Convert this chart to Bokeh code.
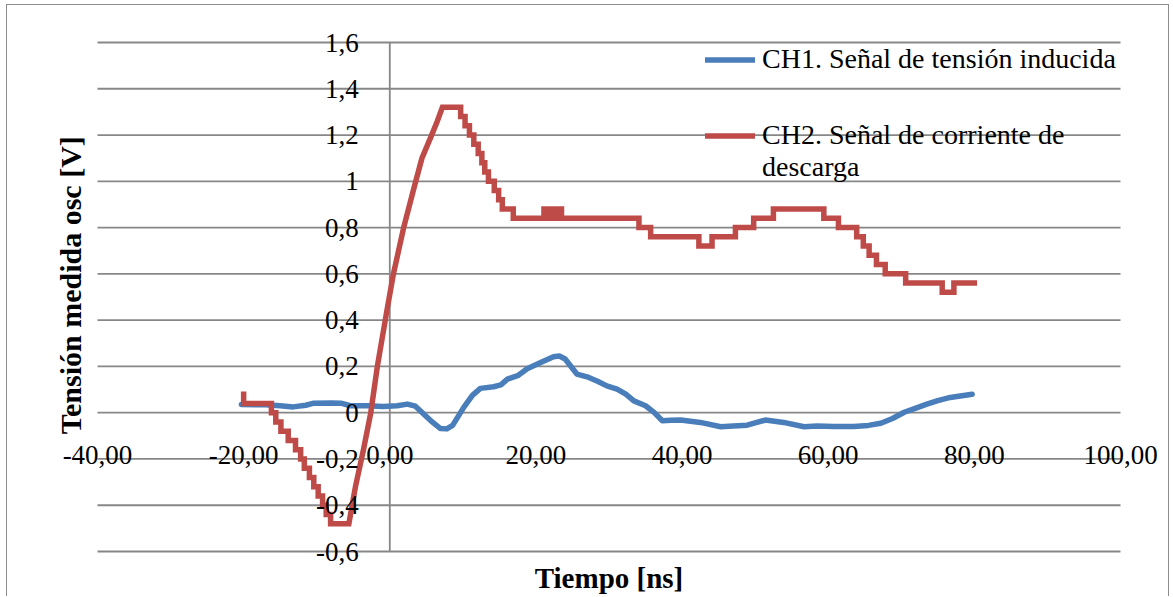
import math
from bokeh.plotting import figure
from bokeh.models import FixedTicker, Legend, LegendItem, Label, Range1d
from bokeh.embed import file_html
from bokeh.resources import INLINE

# ---- data ----
ch1_name = "CH1. Señal de tensión inducida"
ch2_name_line1 = "CH2. Señal de corriente de"
ch2_name_line2 = "descarga"
x_title = "Tiempo [ns]"
y_title = "Tensión  medida osc [V]"

ch1_t = [-20.3, -17.0, -15.0, -13.2, -11.5, -10.4, -8.0, -6.7, -5.4, -3.0,
         -0.9, 1.0, 2.4, 3.5, 4.6, 5.8, 6.9, 7.8, 8.6, 10.1,
         11.3, 12.4, 14.2, 15.2, 16.1, 17.5, 18.8, 20.5, 22.4, 23.2,
         24.0, 25.6, 27.0, 28.5, 29.7, 31.1, 32.3, 33.4, 35.0, 36.2,
         37.3, 38.5, 39.8, 42.5, 45.3, 47.0, 48.9, 51.4, 53.9, 56.7,
         58.5, 60.8, 63.5, 65.5, 67.2, 68.8, 70.4, 72.0, 73.5, 75.0,
         76.7, 78.3, 79.7]
ch1_v = [0.035, 0.034, 0.030, 0.025, 0.032, 0.041, 0.042, 0.041, 0.030, 0.030,
         0.027, 0.030, 0.037, 0.028, -0.005, -0.040, -0.068, -0.070, -0.055, 0.022,
         0.075, 0.105, 0.112, 0.120, 0.145, 0.160, 0.190, 0.215, 0.242, 0.245,
         0.232, 0.167, 0.155, 0.135, 0.116, 0.102, 0.080, 0.051, 0.030, 0.000,
         -0.035, -0.033, -0.032, -0.042, -0.061, -0.058, -0.054, -0.032, -0.042, -0.061,
         -0.058, -0.060, -0.060, -0.055, -0.046, -0.025, 0.002, 0.020, 0.037, 0.052,
         0.066, 0.073, 0.080]

ch2_t = [-20.0, -20.0, -16.2, -16.2, -15.6, -15.6, -14.9, -14.9, -13.9, -13.9,
         -12.9, -12.9, -12.2, -12.2, -11.7, -11.7, -11.0, -11.0, -10.4, -10.4,
         -9.8, -9.8, -9.2, -9.2, -8.7, -8.7, -8.1, -8.1, -5.6,
         -4.7, -3.6, -2.6, -1.7, -0.4, 0.5, 1.9, 3.3, 4.4, 5.6, 6.5, 7.2, 9.7,
         9.7, 10.3, 10.3, 10.9, 10.9, 11.5, 11.5, 12.1, 12.1, 12.6, 12.6, 13.0,
         13.0, 13.5, 13.5, 14.3, 14.3, 14.9, 14.9, 15.4, 15.4, 16.9, 16.9,
         21.1, 21.1, 21.5, 21.5, 21.9, 21.9, 22.4, 22.4, 22.9, 22.9, 23.5, 23.5,
         34.1, 34.1, 35.7, 35.7, 42.3, 42.3, 44.1, 44.1, 47.3, 47.3, 49.8, 49.8,
         52.5, 52.5, 59.4, 59.4, 61.4, 61.4, 63.9, 63.9, 64.8, 64.8, 65.6, 65.6,
         66.6, 66.6, 67.8, 67.8, 70.6, 70.6, 75.6, 75.6, 77.2, 77.2, 80.0]
ch2_v = [0.08, 0.04, 0.04, 0.00, 0.00, -0.04, -0.04, -0.08, -0.08, -0.12,
         -0.12, -0.16, -0.16, -0.20, -0.20, -0.24, -0.24, -0.28, -0.28, -0.32,
         -0.32, -0.36, -0.36, -0.40, -0.40, -0.44, -0.44, -0.48, -0.48,
         -0.32, -0.16, 0.00, 0.20, 0.44, 0.60, 0.80, 0.97, 1.10, 1.19, 1.26, 1.32, 1.32,
         1.28, 1.28, 1.24, 1.24, 1.20, 1.20, 1.16, 1.16, 1.12, 1.12, 1.08, 1.08,
         1.04, 1.04, 1.00, 1.00, 0.96, 0.96, 0.92, 0.92, 0.88, 0.88, 0.84,
         0.84, 0.88, 0.88, 0.84, 0.84, 0.88, 0.88, 0.84, 0.84, 0.88, 0.88, 0.84,
         0.84, 0.80, 0.80, 0.76, 0.76, 0.72, 0.72, 0.76, 0.76, 0.80, 0.80, 0.84,
         0.84, 0.88, 0.88, 0.84, 0.84, 0.80, 0.80, 0.76, 0.76, 0.72, 0.72, 0.68,
         0.68, 0.64, 0.64, 0.60, 0.60, 0.56, 0.56, 0.52, 0.52, 0.56, 0.56]

x_min, x_max = -40, 100
y_min, y_max = -0.6, 1.6
x_ticks = [-40, -20, 0, 20, 40, 60, 80, 100]
x_labels = ["-40,00", "-20,00", "0,00", "20,00", "40,00", "60,00", "80,00", "100,00"]
y_ticks = [-0.6, -0.4, -0.2, 0, 0.2, 0.4, 0.6, 0.8, 1, 1.2, 1.4, 1.6]
y_labels = ["-0,6", "-0,4", "-0,2", "0", "0,2", "0,4", "0,6", "0,8", "1", "1,2", "1,4", "1,6"]

# ---- styling / layout ----
FONT = "Liberation Serif"
GRID = "#878787"
BLUE = "#4A7EBB"
RED = "#BE4B48"
LW = 5.5
W, H = 1163, 592
# plot area (axes box) inside the canvas, in pixels
PL, PR, PT, PB = 90, 1113, 37, 546
sx = (PR - PL) / (x_max - x_min)
sy = (PB - PT) / (y_max - y_min)
xr = Range1d(x_min - PL / sx, x_max + (W - PR) / sx)
yr = Range1d(y_min - (H - PB) / sy, y_max + PT / sy)

p = figure(width=W, height=H, x_range=xr, y_range=yr,
           output_backend="svg", toolbar_location=None,
           min_border=0, outline_line_color=None,
           styles={"margin-left": "6px", "margin-top": "4px",
                   "border-left": "1px solid #8c8c8c",
                   "border-top": "1px solid #8c8c8c",
                   "border-right": "1px solid #8c8c8c"})
p.title.visible = False
p.xgrid.visible = False
p.ygrid.visible = False

# horizontal gridlines and vertical axis line
p.segment(x0=[x_min] * len(y_ticks), x1=[x_max] * len(y_ticks),
          y0=y_ticks, y1=y_ticks, line_color=GRID, line_width=1.8)
p.segment(x0=[0], x1=[0], y0=[y_min], y1=[y_max], line_color=GRID, line_width=1.8)

# axes crossing at zero (labels only)
for ax in (p.xaxis[0], p.yaxis[0]):
    ax.fixed_location = 0
    ax.axis_line_color = None
    ax.major_tick_in = 0
    ax.major_tick_out = 0
    ax.minor_tick_in = 0
    ax.minor_tick_out = 0
    ax.major_label_text_font = FONT
    ax.major_label_text_font_size = "27px"
    ax.major_label_text_color = "black"

p.xaxis[0].ticker = FixedTicker(ticks=x_ticks)
p.xaxis[0].major_label_overrides = dict(zip(x_ticks, x_labels))
p.xaxis[0].major_label_standoff = 33
p.yaxis[0].ticker = FixedTicker(ticks=y_ticks)
p.yaxis[0].major_label_overrides = dict(zip(y_ticks, y_labels))
p.yaxis[0].major_label_standoff = 31

# series
r1 = p.line(ch1_t, ch1_v, line_color=BLUE, line_width=LW,
            line_cap="round", line_join="round")
r2 = p.line(ch2_t, ch2_v, line_color=RED, line_width=LW,
            line_cap="square", line_join="miter")
r_blank = p.line([], [], line_alpha=0)

# axis titles
p.add_layout(Label(x=(x_min + x_max) / 2, y=y_min - 26 / sy, text=x_title,
                   text_align="center", text_baseline="middle",
                   text_font=FONT, text_font_size="29px", text_font_style="bold",
                   text_color="black"))
p.add_layout(Label(x=x_min - 27 / sx, y=y_max - 239 / sy, text=y_title,
                   angle=math.pi / 2, text_align="center", text_baseline="middle",
                   text_font=FONT, text_font_size="30px", text_font_style="bold",
                   text_color="black"))

# legends
def make_legend(items, loc):
    return Legend(items=items, location=loc, orientation="vertical",
                  background_fill_alpha=0, border_line_alpha=0,
                  padding=0, margin=0, spacing=0, label_standoff=7,
                  glyph_width=50, glyph_height=31, label_height=31,
                  label_text_font=FONT, label_text_font_size="28px",
                  label_text_color="black")

p.add_layout(make_legend([LegendItem(label=ch1_name, renderers=[r1])], (698, 522)))
p.add_layout(make_legend([LegendItem(label=ch2_name_line1, renderers=[r2]),
                          LegendItem(label=ch2_name_line2, renderers=[r_blank])],
                         (698, 414)))

open("out.html", "w").write(file_html(p, INLINE))
